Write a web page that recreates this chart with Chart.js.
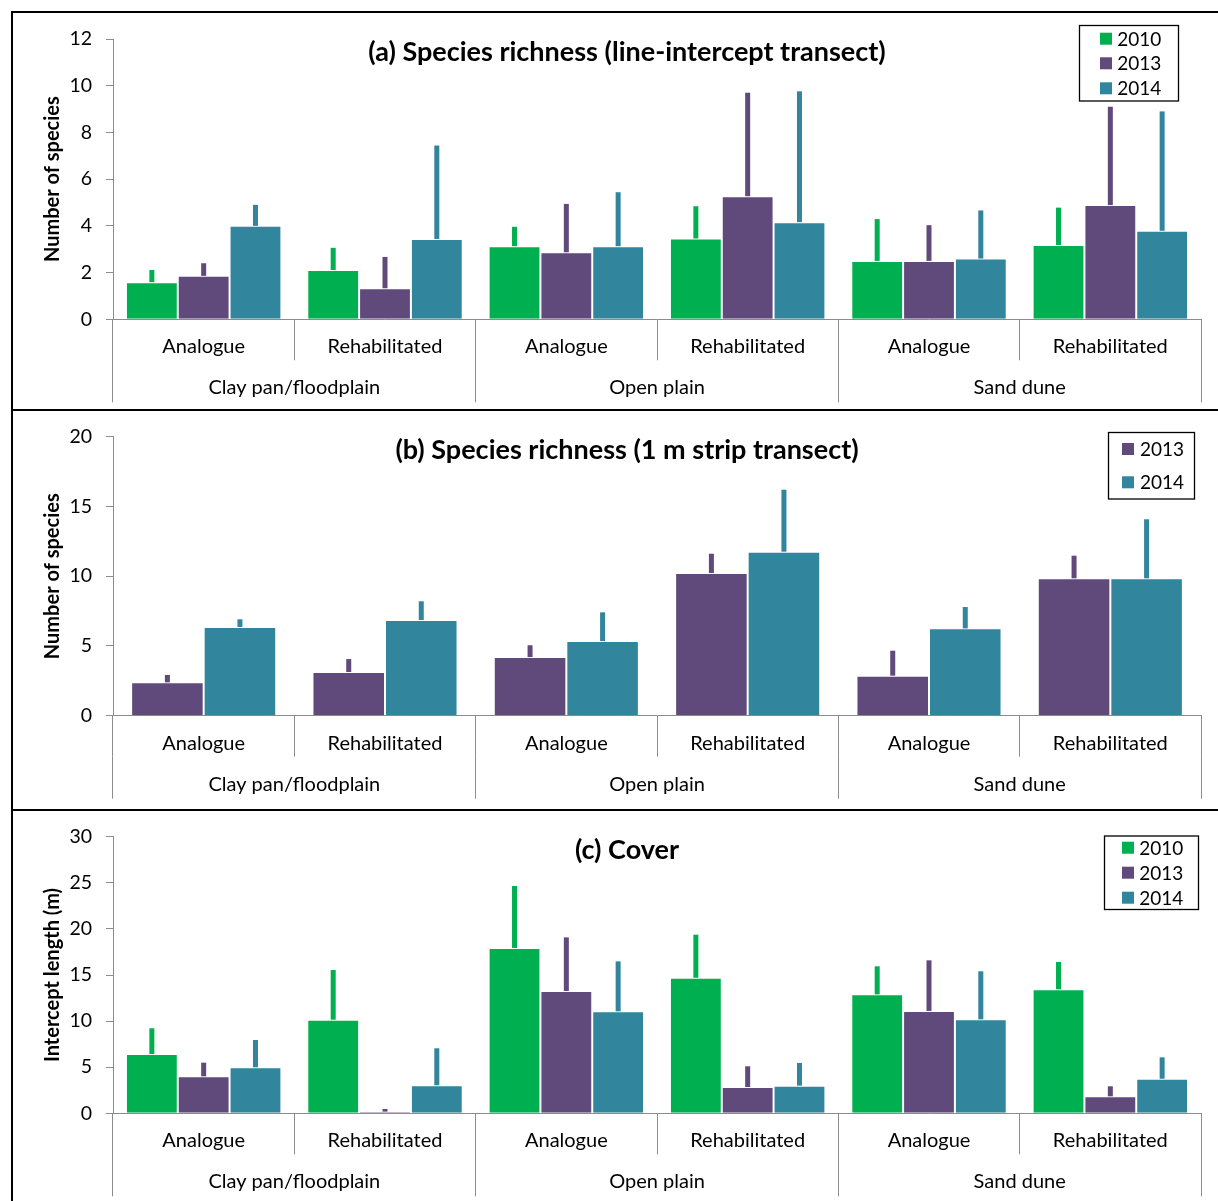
<!DOCTYPE html>
<html><head><meta charset="utf-8">
<script src="https://cdn.jsdelivr.net/npm/chart.js@4.4.1/dist/chart.umd.min.js"></script>
<style>
html,body{margin:0;padding:0;background:#fff;overflow:hidden;width:1218px;height:1201px;}
.wrap{position:absolute;left:0;width:1218px;}
.line{position:absolute;background:#000;z-index:5;}
</style></head><body>
<div class="wrap" style="top:12px;height:396px"><canvas id="ca"></canvas></div>
<div class="wrap" style="top:410px;height:396px"><canvas id="cb"></canvas></div>
<div class="wrap" style="top:810px;height:391px"><canvas id="cc"></canvas></div>
<div class="line" style="left:11px;top:11px;width:1207px;height:2px"></div>
<div class="line" style="left:11px;top:11px;width:2px;height:1190px"></div>
<div class="line" style="left:11px;top:409px;width:1207px;height:2px"></div>
<div class="line" style="left:11px;top:809px;width:1207px;height:2px"></div>
<script>
// ---- data ----
const categories = ['Analogue','Rehabilitated','Analogue','Rehabilitated','Analogue','Rehabilitated'];
const habitats = ['Clay pan/floodplain','Open plain','Sand dune'];

// (a) Species richness (line-intercept transect): means and error (upper) amounts
const a2010 = [1.59, 2.11, 3.13, 3.46, 2.50, 3.18];
const a2010Err = [0.52, 0.95, 0.83, 1.38, 1.79, 1.60];
const a2013 = [1.86, 1.33, 2.87, 5.27, 2.50, 4.89];
const a2013Err = [0.54, 1.34, 2.07, 4.43, 1.53, 4.21];
const a2014 = [4.00, 3.44, 3.13, 4.16, 2.60, 3.79];
const a2014Err = [0.90, 4.00, 2.31, 5.60, 2.06, 5.11];

// (b) Species richness (1 m strip transect)
const b2013 = [2.39, 3.13, 4.20, 10.23, 2.87, 9.85];
const b2013Err = [0.53, 0.93, 0.85, 1.38, 1.79, 1.62];
const b2014 = [6.36, 6.86, 5.35, 11.76, 6.26, 9.85];
const b2014Err = [0.55, 1.34, 2.06, 4.44, 1.53, 4.23];

// (c) Cover
const c2010 = [6.43, 10.15, 17.93, 14.70, 12.90, 13.45];
const c2010Err = [2.79, 5.39, 6.72, 4.67, 3.04, 2.96];
const c2013 = [4.01, 0.18, 13.26, 2.85, 11.10, 1.84];
const c2013Err = [1.48, 0.29, 5.82, 2.25, 5.49, 1.09];
const c2014 = [4.99, 3.04, 11.06, 3.00, 10.19, 3.75];
const c2014Err = [2.96, 4.01, 5.42, 2.46, 5.21, 2.32];

const COLORS = {'2010':'#00B050','2013':'#604A7B','2014':'#31859C'};
const AXIS = '#8c8c8c';
const FONT = 'Lato, "Noto Sans", sans-serif';

const errorBars = {
  id:'errorBars',
  afterDatasetsDraw(chart){
    const ctx = chart.ctx, y = chart.scales.y;
    chart.data.datasets.forEach((ds,i)=>{
      const meta = chart.getDatasetMeta(i);
      meta.data.forEach((bar,j)=>{
        const v = ds.data[j], e = ds.errors[j];
        const top = y.getPixelForValue(v+e), base = y.getPixelForValue(v);
        ctx.save();
        ctx.fillStyle = ds.backgroundColor;
        ctx.fillRect(bar.x-2.5, top, 5, base-top);
        ctx.restore();
      });
    });
  }
};

const boxLegend = {
  id:'boxLegend',
  afterDraw(chart, args, o){
    const ctx = chart.ctx;
    ctx.save();
    ctx.strokeStyle = '#000'; ctx.lineWidth = 1.3;
    ctx.strokeRect(o.x, o.y, o.w, o.h);
    ctx.font = o.size + 'px ' + FONT;
    ctx.textBaseline = 'middle'; ctx.textAlign = 'left';
    chart.data.datasets.forEach((ds,i)=>{
      const ry = o.rows[i];
      ctx.fillStyle = ds.backgroundColor;
      ctx.fillRect(o.sqX, ry-o.sq/2, o.sq, o.sq);
      ctx.fillStyle = '#000';
      ctx.fillText(ds.label, o.textX, ry+1);
    });
    ctx.restore();
  }
};

function makeChart(id, cfg){
  const datasets = cfg.series.map(s=>({
    label:s.label, data:s.data, errors:s.err,
    backgroundColor:COLORS[s.label], borderColor:'rgba(255,255,255,0.45)', borderWidth:1,
    barPercentage:1, categoryPercentage:cfg.catPct
  }));
  new Chart(document.getElementById(id), {
    type:'bar',
    data:{labels:categories, datasets},
    options:{
      responsive:true, maintainAspectRatio:false, animation:false,
      layout:{padding:{left:53, right:17, top:0, bottom:cfg.padBottom}},
      plugins:{
        legend:{display:false}, tooltip:{enabled:false},
        title:{display:true, text:cfg.title, color:'#000',
          font:{family:FONT, size:27, weight:'bold', lineHeight:1.2},
          padding:{top:cfg.titleTop, bottom:cfg.titleBottom}},
        boxLegend:cfg.legend
      },
      scales:{
        x:{type:'category', offset:true, weight:0, position:'bottom',
          grid:{offset:true, drawOnChartArea:false, drawTicks:true, tickLength:41, color:AXIS, lineWidth:1},
          border:{display:true, color:AXIS, width:1},
          ticks:{color:'#000', font:{family:FONT, size:20, lineHeight:1.2}, padding:-25.6, maxRotation:0, autoSkip:false},
          afterFit(s){ s.height = 41; }},
        x2:{type:'category', labels:habitats, offset:true, weight:1, position:'bottom',
          grid:{offset:true, drawOnChartArea:false, drawTicks:true, tickLength:42, color:AXIS, lineWidth:1},
          border:{display:false},
          ticks:{color:'#000', font:{family:FONT, size:20, lineHeight:1.2}, padding:-26.3, maxRotation:0, autoSkip:false},
          afterFit(s){ s.height = 42; }},
        y:{type:'linear', min:0, max:cfg.max,
          ticks:{stepSize:cfg.step, color:'#000', font:{family:FONT, size:19.5}, padding:14},
          grid:{drawOnChartArea:false, drawTicks:true, tickLength:7, color:AXIS},
          border:{display:true, color:AXIS, width:1},
          title:{display:true, text:cfg.yTitle, color:'#000',
            font:{family:FONT, size:20, weight:'bold', lineHeight:1.2}, padding:{top:-12, bottom:0}},
          afterFit(s){ s.width = 60; }}
      }
    },
    plugins:[errorBars, boxLegend]
  });
}

makeChart('ca', {
  title:'(a) Species richness (line-intercept transect)', yTitle:'Number of species',
  max:12, step:2, catPct:3/3.5, padBottom:5.7, titleTop:24.3, titleBottom:-29.7,
  series:[{label:'2010', data:a2010, err:a2010Err},{label:'2013', data:a2013, err:a2013Err},{label:'2014', data:a2014, err:a2014Err}],
  legend:{x:1079.5, y:13.5, w:99, h:75.5, rows:[26.7,51.3,76.3], sqX:1100, sq:12, textX:1117.3, size:19}
});
makeChart('cb', {
  title:'(b) Species richness (1 m strip transect)', yTitle:'Number of species',
  max:20, step:5, catPct:2/2.5, padBottom:7.3, titleTop:23.6, titleBottom:-29.3,
  series:[{label:'2013', data:b2013, err:b2013Err},{label:'2014', data:b2014, err:b2014Err}],
  legend:{x:1108.5, y:22.5, w:86, h:66.5, rows:[39,72.3], sqX:1122, sq:12, textX:1140, size:19}
});
makeChart('cc', {
  title:'(c) Cover', yTitle:'Intercept length (m)',
  max:30, step:5, catPct:3/3.5, padBottom:4.7, titleTop:23.6, titleBottom:-29.3,
  series:[{label:'2010', data:c2010, err:c2010Err},{label:'2013', data:c2013, err:c2013Err},{label:'2014', data:c2014, err:c2014Err}],
  legend:{x:1104.5, y:26, w:94, h:73.5, rows:[37.7,62.7,87.7], sqX:1122, sq:12, textX:1139.3, size:19}
});
</script>
</body></html>
